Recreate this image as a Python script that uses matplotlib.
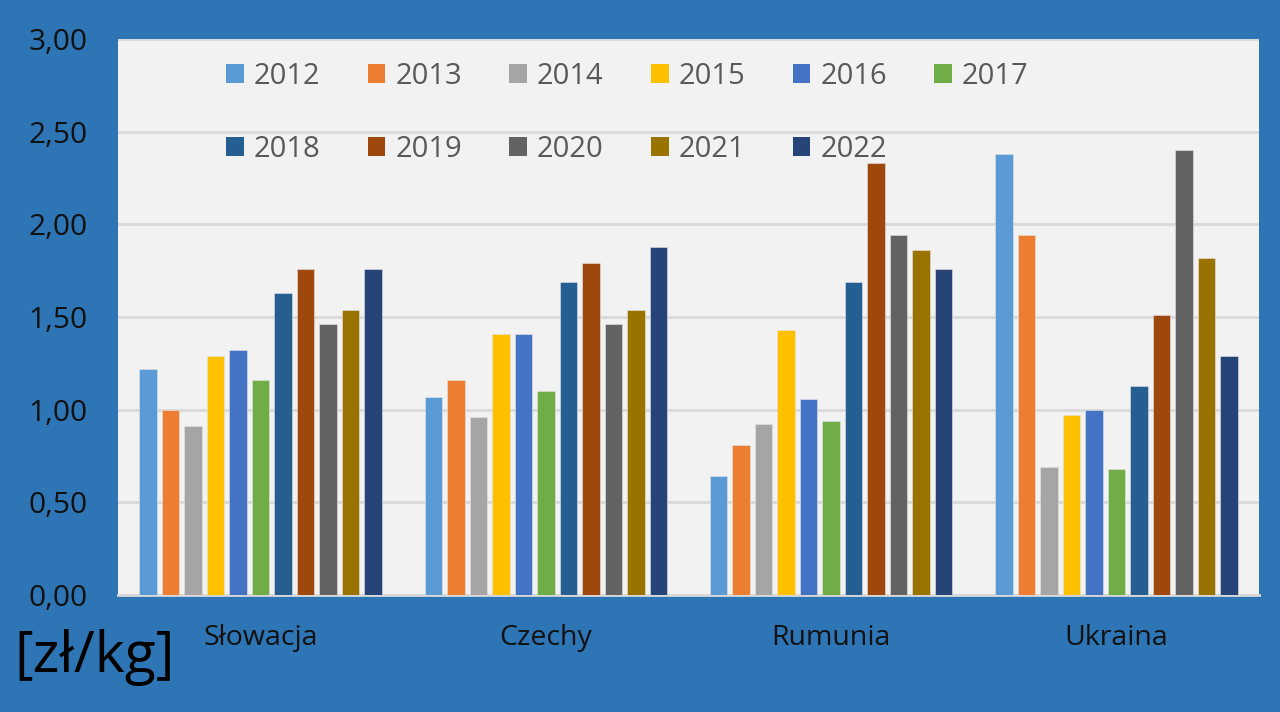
import numpy as np
import matplotlib
matplotlib.use("Agg")
import matplotlib.pyplot as plt
from matplotlib.patches import Patch
from matplotlib.ticker import FuncFormatter

plt.rcParams['font.family'] = ['Open Sans', 'DejaVu Sans']

### data ###
countries = ['Słowacja', 'Czechy', 'Rumunia', 'Ukraina']
years = ['2012', '2013', '2014', '2015', '2016', '2017',
         '2018', '2019', '2020', '2021', '2022']

slowacja = [1.22, 1.00, 0.91, 1.29, 1.32, 1.16, 1.63, 1.76, 1.46, 1.54, 1.76]
czechy = [1.07, 1.16, 0.96, 1.41, 1.41, 1.10, 1.69, 1.79, 1.46, 1.54, 1.88]
rumunia = [0.64, 0.81, 0.92, 1.43, 1.06, 0.94, 1.69, 2.33, 1.94, 1.86, 1.76]
ukraina = [2.38, 1.94, 0.69, 0.97, 1.00, 0.68, 1.13, 1.51, 2.40, 1.82, 1.29]

colors = ['#5B9BD5', '#ED7D31', '#A5A5A5', '#FFC000', '#4472C4', '#70AD47',
          '#255E91', '#9E480E', '#636363', '#997300', '#264478']

values = np.array([slowacja, czechy, rumunia, ukraina])  # country x year

### figure ###
fig = plt.figure(figsize=(12.8, 7.12), dpi=100)
fig.patch.set_facecolor('#2E75B6')
ax = fig.add_axes([118 / 1280, 1 - 595 / 712, 1141 / 1280, 556 / 712])
ax.set_facecolor('#F2F2F2')

n = len(years)
x = np.arange(len(countries))
slot = 0.867 / n
for i, yr in enumerate(years):
    pos = x - 0.867 / 2 + slot * (i + 0.5)
    ax.bar(pos, values[:, i], width=slot * 0.78, color=colors[i],
           edgecolor='#E4E4E4', linewidth=0.4, zorder=3)

ax.set_xlim(-0.5, len(countries) - 0.5)
ax.set_ylim(0, 3.0)
ax.set_yticks(np.arange(0, 3.01, 0.5))
ax.yaxis.set_major_formatter(FuncFormatter(lambda v, p: f'{v:.2f}'.replace('.', ',')))
ax.grid(axis='y', color='#D9D9D9', linewidth=2, zorder=0)
ax.set_axisbelow(True)

ax.set_xticks(x)
ax.set_xticklabels(countries)
ax.tick_params(axis='y', length=0, pad=22, labelsize=21.5, labelcolor='#111111')
ax.tick_params(axis='x', length=0, pad=21, labelsize=20.5, labelcolor='#111111')

for s in ['left', 'right', 'top']:
    ax.spines[s].set_visible(False)
ax.spines['bottom'].set_color('#D9D9D9')
ax.spines['bottom'].set_linewidth(2)

### legend: 2 rows, row-major order ###
order = [0, 6, 1, 7, 2, 8, 3, 9, 4, 10, 5]
handles = [Patch(facecolor=colors[i], edgecolor='none') for i in order]
labels = [years[i] for i in order]
leg = ax.legend(handles, labels, ncol=6, frameon=False,
                loc='upper left', bbox_to_anchor=(226 / 1280, 1 - 62 / 712),
                bbox_transform=fig.transFigure, borderpad=0, borderaxespad=0,
                fontsize=21, handlelength=0.6, handleheight=0.6,
                handletextpad=0.35, columnspacing=1.62, labelspacing=1.5)
for t in leg.get_texts():
    t.set_color('#595959')

fig.text(14 / 1280, 1 - 657 / 712, '[zł/kg]', fontsize=41, color='black',
         ha='left', va='center')

fig.savefig('out.png', dpi=100, facecolor=fig.get_facecolor())
